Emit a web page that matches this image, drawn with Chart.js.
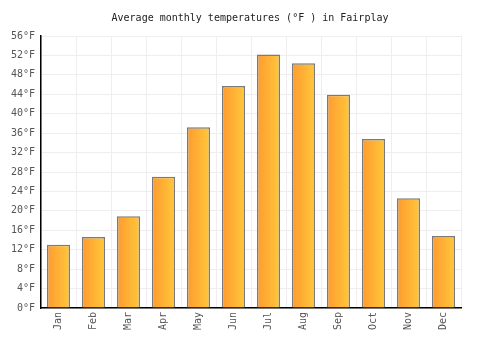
<!DOCTYPE html>
<html>
<head>
<meta charset="utf-8">
<script src="https://cdn.jsdelivr.net/npm/chart.js@4"></script>
<style>
html,body{margin:0;padding:0;background:#fff;}
#wrap{width:500px;height:350px;}
</style>
</head>
<body>
<div id="wrap"><canvas id="myChart" width="500" height="350"></canvas></div>
<script>
const months = ["Jan","Feb","Mar","Apr","May","Jun","Jul","Aug","Sep","Oct","Nov","Dec"];
const temps = [13, 14.6, 18.9, 27, 37.2, 45.7, 52.2, 50.4, 43.9, 34.8, 22.6, 14.8];
const yMax = 56;
const yStep = 4;
const titleText = "Average monthly temperatures (°F ) in Fairplay";

const mono = "'DejaVu Sans Mono', monospace";

function barFill(c) {
  const chart = c.chart;
  const xs = chart.scales.x;
  if (!chart.chartArea || !xs || c.dataIndex === undefined) return "#ffb030";
  const cx = xs.getPixelForValue(c.dataIndex);
  const w = (xs.width / months.length) * 0.66;
  const g = chart.ctx.createLinearGradient(cx - w / 2, 0, cx + w / 2, 0);
  g.addColorStop(0, "#ff9a30");
  g.addColorStop(1, "#ffc83a");
  return g;
}

// title drawn centred on the whole canvas, not on the padded box
const centreTitle = {
  id: "centreTitle",
  afterDraw(chart) {
    const ctx = chart.ctx;
    ctx.save();
    ctx.font = "10px " + mono;
    ctx.fillStyle = "#222";
    ctx.textAlign = "center";
    ctx.textBaseline = "middle";
    ctx.fillText(titleText, chart.width / 2, 18);
    ctx.restore();
  }
};

new Chart("myChart", {
  type: "bar",
  data: {
    labels: months,
    datasets: [{
      data: temps,
      backgroundColor: barFill,
      borderColor: "#7a7a7a",
      borderWidth: 1.5,
      barPercentage: 0.66,
      categoryPercentage: 1
    }]
  },
  options: {
    responsive: false,
    animation: false,
    layout: { padding: { left: 0, right: 39, top: 36, bottom: 0 } },
    plugins: {
      legend: { display: false },
      tooltip: { enabled: false },
      title: { display: false }
    },
    scales: {
      x: {
        offset: true,
        grid: { color: "#eeeeee", lineWidth: 1, offset: true, drawTicks: false },
        border: { color: "#000", width: 1.5 },
        ticks: {
          color: "#555",
          font: { family: mono, size: 10 },
          maxRotation: 90,
          minRotation: 90,
          padding: 4
        },
        afterFit: s => { s.height = 42; }
      },
      y: {
        min: 0,
        max: yMax,
        grid: { color: "#eeeeee", lineWidth: 1, drawTicks: false },
        border: { color: "#000", width: 1.5 },
        ticks: {
          stepSize: yStep,
          color: "#555",
          font: { family: mono, size: 10 },
          padding: 6,
          callback: v => v + "°F"
        },
        afterFit: s => { s.width = 41; }
      }
    }
  },
  plugins: [centreTitle]
});
</script>
</body>
</html>
